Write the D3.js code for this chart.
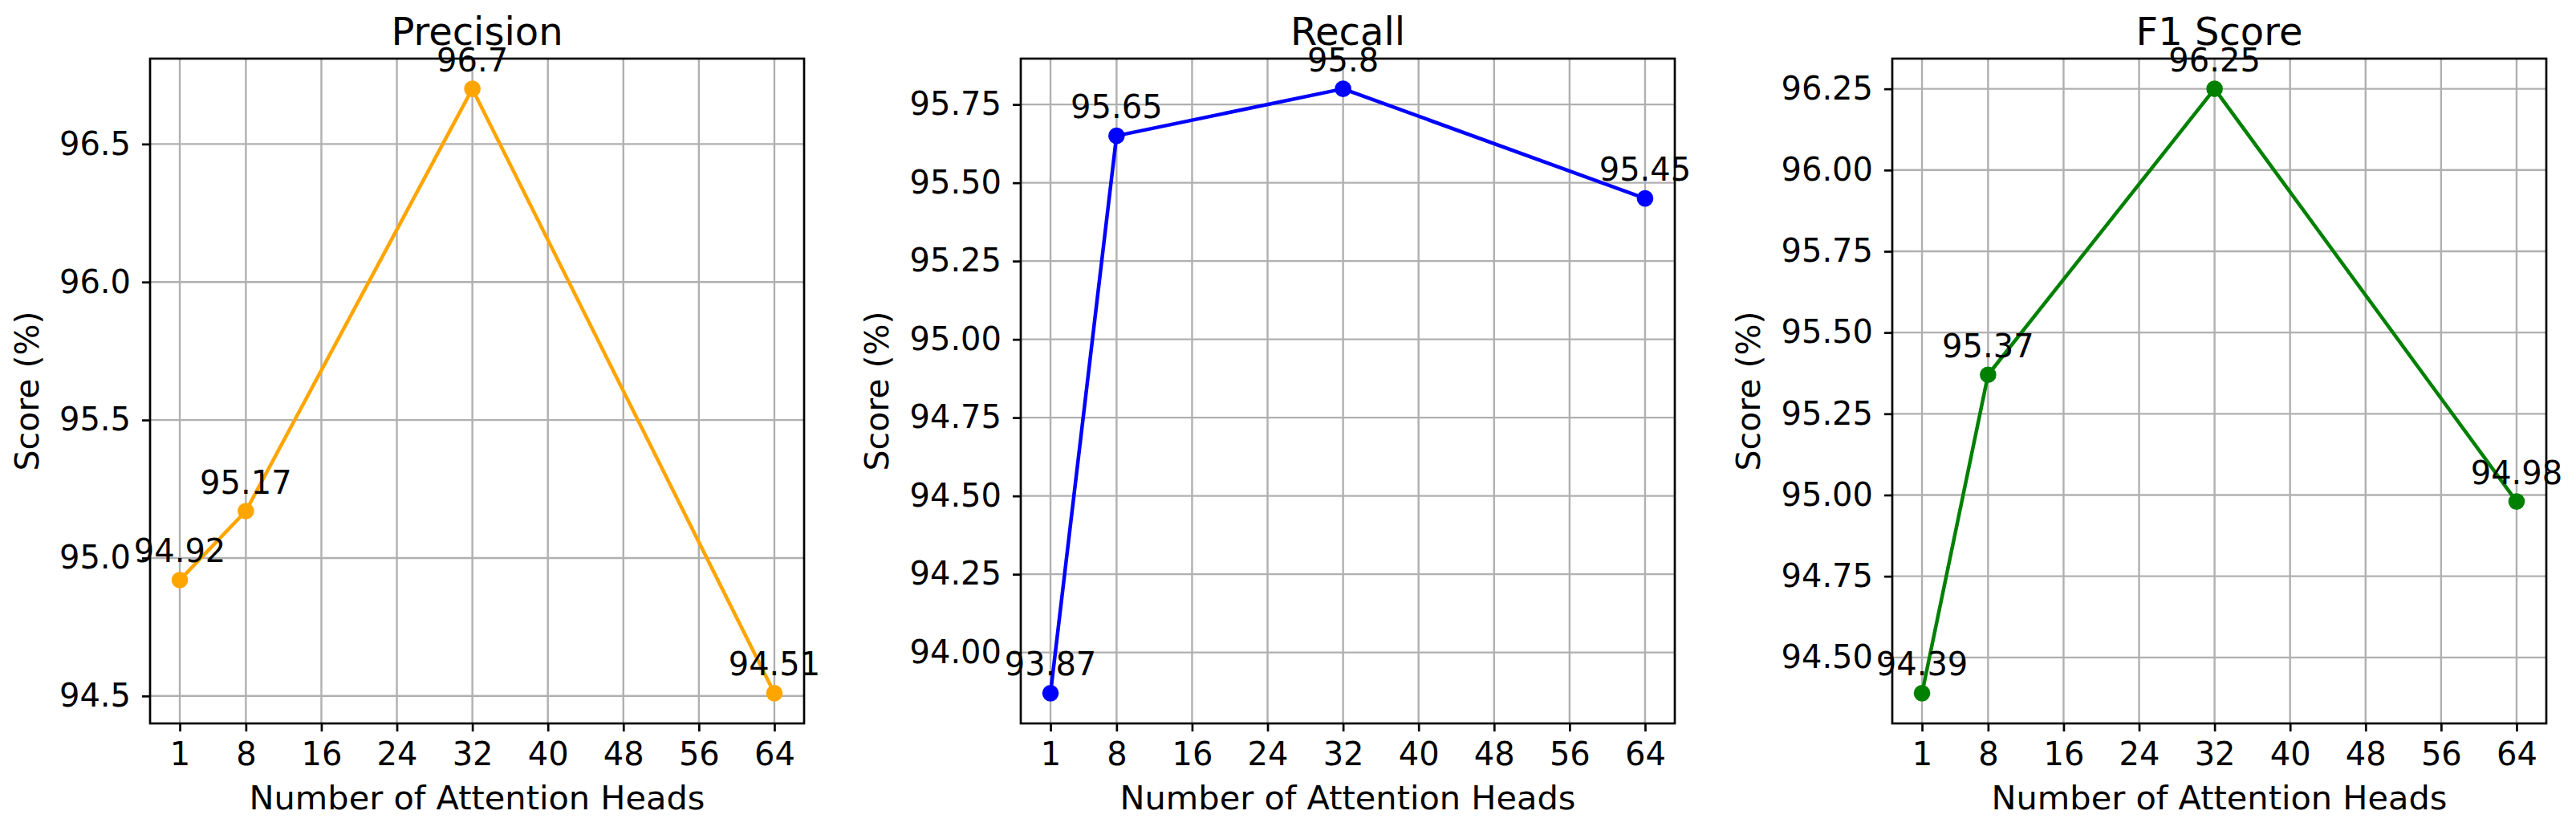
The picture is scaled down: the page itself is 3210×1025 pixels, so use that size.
<!DOCTYPE html>
<html>
<head>
<meta charset="utf-8">
<script src="https://cdn.jsdelivr.net/npm/d3@7"></script>
<style>
  html, body { margin: 0; padding: 0; background: #fff; }
  svg { display: block; font-family: "DejaVu Sans", sans-serif; }
</style>
</head>
<body>
<svg id="chart" width="3210" height="1025"></svg>
<script>
// ---- data ----
const heads = [1, 8, 32, 64];
const xTicks = [1, 8, 16, 24, 32, 40, 48, 56, 64];
const precision = [94.92, 95.17, 96.7, 94.51];
const recall = [93.87, 95.65, 95.8, 95.45];
const f1 = [94.39, 95.37, 96.25, 94.98];
const precisionTicks = [94.5, 95.0, 95.5, 96.0, 96.5];
const recallTicks = [94.00, 94.25, 94.50, 94.75, 95.00, 95.25, 95.50, 95.75];
const f1Ticks = [94.50, 94.75, 95.00, 95.25, 95.50, 95.75, 96.00, 96.25];
const titles = ["Precision", "Recall", "F1 Score"];
const colors = ["orange", "blue", "green"];
const labelText = ["94.92", "95.17", "96.7", "94.51"];

const panels = [
  { title: titles[0], values: precision, ticks: precisionTicks, fmt: d3.format(".1f"), color: colors[0], left: 187 },
  { title: titles[1], values: recall, ticks: recallTicks, fmt: d3.format(".2f"), color: colors[1], left: 1272 },
  { title: titles[2], values: f1, ticks: f1Ticks, fmt: d3.format(".2f"), color: colors[2], left: 2358 }
];

const W = 815, H = 828, TOP = 73;
const svg = d3.select("#chart");

panels.forEach(p => {
  const g = svg.append("g").attr("transform", `translate(${p.left},${TOP})`);
  const xr = d3.extent(heads), xm = (xr[1] - xr[0]) * 0.05;
  const x = d3.scaleLinear().domain([xr[0] - xm, xr[1] + xm]).range([0, W]);
  const yr = d3.extent(p.values), ym = (yr[1] - yr[0]) * 0.05;
  const y = d3.scaleLinear().domain([yr[0] - ym, yr[1] + ym]).range([H, 0]);

  // grid
  g.append("g").selectAll("line").data(xTicks).join("line")
    .attr("x1", d => x(d)).attr("x2", d => x(d)).attr("y1", 0).attr("y2", H)
    .attr("stroke", "#b0b0b0").attr("stroke-width", 2.4);
  g.append("g").selectAll("line").data(p.ticks).join("line")
    .attr("y1", d => y(d)).attr("y2", d => y(d)).attr("x1", 0).attr("x2", W)
    .attr("stroke", "#b0b0b0").attr("stroke-width", 2.4);

  // axes
  const xAxis = g.append("g").attr("transform", `translate(0,${H})`)
    .call(d3.axisBottom(x).tickValues(xTicks).tickSize(10).tickPadding(12).tickFormat(d3.format("d")));
  const yAxis = g.append("g")
    .call(d3.axisLeft(y).tickValues(p.ticks).tickSize(10).tickPadding(14).tickFormat(p.fmt));
  [xAxis, yAxis].forEach(a => {
    a.select(".domain").remove();
    a.selectAll(".tick line").attr("stroke", "#000").attr("stroke-width", 2.7);
    a.selectAll(".tick text").attr("font-size", 40).attr("fill", "#000")
      .attr("font-family", "DejaVu Sans");
  });
  xAxis.selectAll(".tick text").attr("dy", null).attr("y", 52);

  // line + markers
  const pts = heads.map((h, i) => [h, p.values[i]]);
  g.append("path").datum(pts)
    .attr("d", d3.line().x(d => x(d[0])).y(d => y(d[1])))
    .attr("fill", "none").attr("stroke", p.color).attr("stroke-width", 4.5)
    .attr("stroke-linejoin", "round");
  g.append("g").selectAll("circle").data(pts).join("circle")
    .attr("cx", d => x(d[0])).attr("cy", d => y(d[1])).attr("r", 10.3)
    .attr("fill", p.color);

  // spines
  g.append("rect").attr("x", 0).attr("y", 0).attr("width", W).attr("height", H)
    .attr("fill", "none").attr("stroke", "#000").attr("stroke-width", 2.7);

  // annotations
  g.append("g").selectAll("text").data(pts).join("text")
    .attr("x", d => x(d[0])).attr("y", d => y(d[1]) - 22)
    .attr("text-anchor", "middle").attr("font-size", 40).attr("fill", "#000")
    .text(d => String(d[1]));

  // title
  g.append("text").attr("x", W / 2).attr("y", -17).attr("text-anchor", "middle")
    .attr("font-size", 48).attr("fill", "#000").text(p.title);

  // x label
  g.append("text").attr("x", W / 2).attr("y", 1008 - TOP).attr("text-anchor", "middle")
    .attr("font-size", 41.5).attr("fill", "#000").text("Number of Attention Heads");

  // y label
  let minX = 0;
  yAxis.selectAll(".tick text").each(function () {
    const b = this.getBBox();
    const tr = this.parentNode.transform.baseVal.consolidate();
    minX = Math.min(minX, b.x + (tr ? tr.matrix.e : 0));
  });
  const cx = minX - 26;
  g.append("text").attr("transform", `translate(${cx},${H / 2}) rotate(-90)`)
    .attr("text-anchor", "middle").attr("font-size", 41).attr("fill", "#000")
    .text("Score (%)");
});
</script>
</body>
</html>
